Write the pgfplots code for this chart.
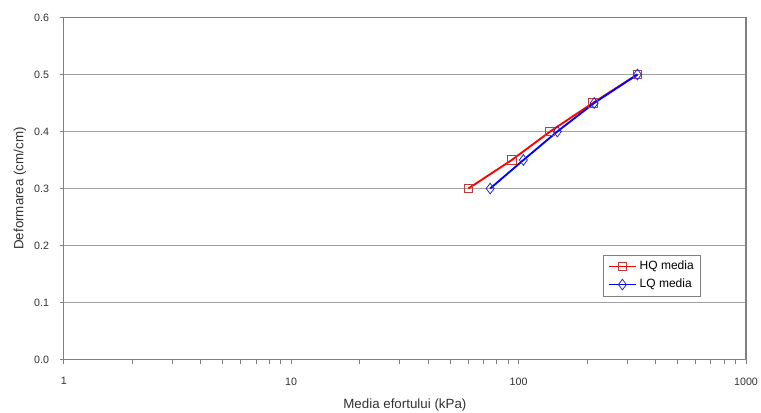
\documentclass[border=0pt]{standalone}
\usepackage{pgfplots}
\pgfplotsset{compat=1.18}
\usepackage{fontspec}
\setmainfont{Liberation Sans}
\definecolor{gridgray}{RGB}{160,160,160}
\definecolor{axgray}{RGB}{128,128,128}
\definecolor{txtgray}{RGB}{50,50,50}
\begin{document}
\begin{tikzpicture}
\useasboundingbox (-47.8pt,-39.5pt) rectangle (522.75pt,269.6pt);
\begin{axis}[
  scale only axis,
  width=511.5pt, height=256.5pt,
  xmode=log, xmin=1, xmax=1000,
  ymin=0, ymax=0.6,
  ytick={0,0.1,0.2,0.3,0.4,0.5,0.6},
  yticklabel style={xshift=-4.5pt, /pgf/number format/fixed, /pgf/number format/fixed zerofill, /pgf/number format/precision=1},
  log ticks with fixed point,
  /pgf/number format/1000 sep={},
  ymajorgrids,
  grid style={gridgray, line width=0.8pt},
  axis line style={axgray, line width=0.8pt},
  tick style={axgray, line width=0.6pt},
  tick align=outside,
  tick pos=left,
  major tick length=3pt, minor tick length=3pt,
  ticklabel style={font=\fontsize{8}{9}\selectfont, text=txtgray},
  xticklabel style={yshift=-7pt},
  /pgf/number format/assume math mode=true,
  xlabel={Media efortului (kPa)},
  ylabel={Deformarea (cm/cm)},
  label style={font=\fontsize{10}{12}\selectfont, text=txtgray},
  xlabel style={at={(axis description cs:0.5,-0.1316)}, anchor=center},
  ylabel style={at={(axis description cs:-0.0641,0.5)}, anchor=center, rotate=0},
  legend style={at={(0.791,0.185)}, anchor=south west, draw=axgray, line width=0.6pt,
    font=\fontsize{9}{10.5}\selectfont, inner xsep=3pt, inner ysep=2.5pt, row sep=1.5pt},
  legend cell align=left,
  legend image code/.code={\draw[mark repeat=2,mark phase=2] plot coordinates {(0cm,0cm) (0.36cm,0cm) (0.72cm,0cm)};},
]
\addplot[red, line width=1.4pt, mark=square, mark size=3.2pt,
  mark options={solid, draw=red!55!gray, line width=0.6pt, fill=none}]
  coordinates {(60.1,0.30) (93.3,0.35) (137.6,0.40) (212,0.45) (333,0.50)};
\addlegendentry{HQ media}
\addplot[blue, line width=1.4pt, mark=diamond, mark size=4pt,
  mark options={solid, draw=blue!70!gray, line width=0.6pt, fill=none}]
  coordinates {(75,0.30) (105,0.35) (148,0.40) (215,0.45) (333,0.50)};
\addlegendentry{LQ media}
\end{axis}
\end{tikzpicture}
\end{document}
